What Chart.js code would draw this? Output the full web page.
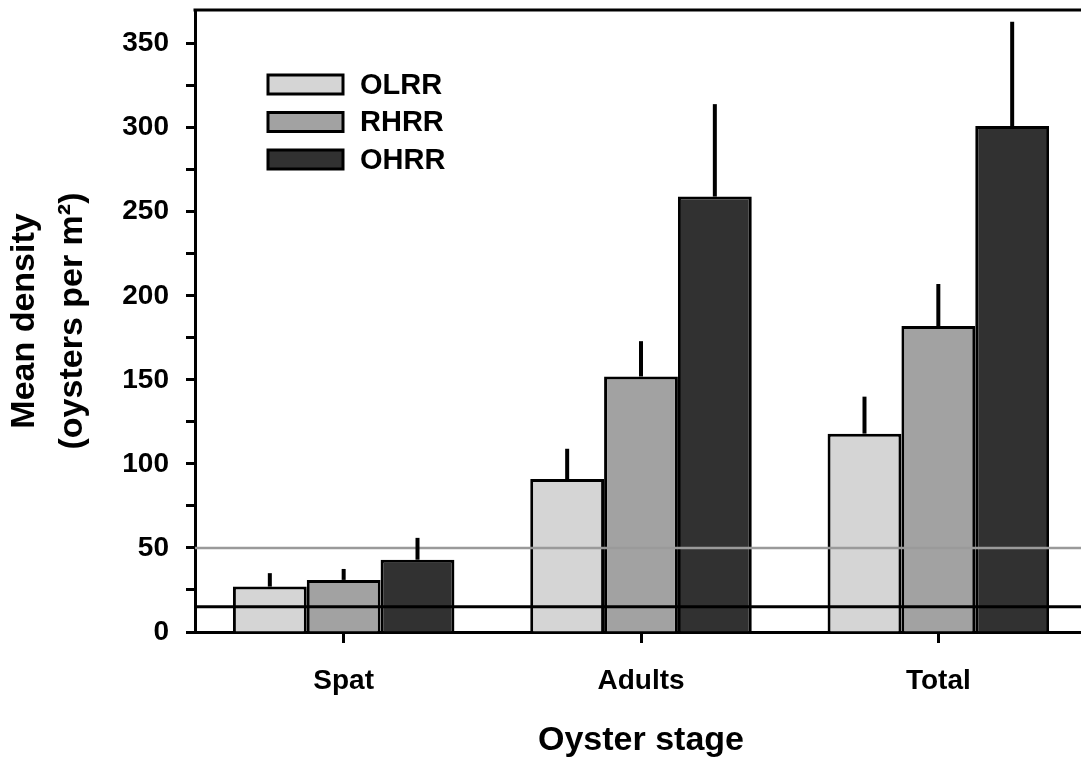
<!DOCTYPE html>
<html>
<head>
<meta charset="utf-8">
<script src="https://cdn.jsdelivr.net/npm/chart.js@4"></script>
<style>
  html, body { margin: 0; padding: 0; background: #ffffff; overflow: hidden; }
  #wrap { width: 1100px; height: 765px; }
</style>
</head>
<body>
<div id="wrap"><canvas id="c" width="1100" height="765"></canvas></div>
<script>
// Oyster density by stage and reef type
const stages = ['Spat', 'Adults', 'Total'];
const olrr = [27, 91, 118];
const rhrr = [31, 152, 182];
const ohrr = [43, 259, 301];
// upper standard error for each bar
const olrrErr = [8, 18, 22];
const rhrrErr = [6.5, 21, 25];
const ohrrErr = [13, 55, 62];
// reference densities drawn as horizontal lines
const refGray = 50;
const refBlack = 15;
const yMin = 0, yMax = 370, yStep = 25;

const FONT = '"Liberation Sans", Arial, Helvetica, sans-serif';

const errorBars = {
  id: 'errorBars',
  afterDatasetsDraw(chart) {
    const ctx = chart.ctx;
    const y = chart.scales.y;
    ctx.save();
    ctx.strokeStyle = '#000';
    ctx.lineWidth = 4;
    chart.data.datasets.forEach((ds, i) => {
      const meta = chart.getDatasetMeta(i);
      meta.data.forEach((bar, j) => {
        const top = y.getPixelForValue(ds.data[j] + ds.errors[j]);
        ctx.beginPath();
        ctx.moveTo(bar.x, bar.y);
        ctx.lineTo(bar.x, top);
        ctx.stroke();
      });
    });
    ctx.restore();
  }
};

const refLines = {
  id: 'refLines',
  afterDatasetsDraw(chart) {
    const ctx = chart.ctx;
    const a = chart.chartArea;
    const y = chart.scales.y;
    ctx.save();
    const yg = y.getPixelForValue(refGray);
    ctx.strokeStyle = '#9a9a9a';
    ctx.lineWidth = 2.5;
    ctx.beginPath(); ctx.moveTo(a.left, yg); ctx.lineTo(a.right, yg); ctx.stroke();
    const yb = y.getPixelForValue(refBlack);
    ctx.strokeStyle = '#000';
    ctx.lineWidth = 3;
    ctx.beginPath(); ctx.moveTo(a.left, yb); ctx.lineTo(a.right, yb); ctx.stroke();
    // frame line along the top of the plot
    ctx.lineWidth = 3;
    ctx.beginPath(); ctx.moveTo(a.left - 1.5, a.top); ctx.lineTo(a.right, a.top); ctx.stroke();
    ctx.restore();
  }
};

const boxLegend = {
  id: 'boxLegend',
  afterDraw(chart) {
    const ctx = chart.ctx;
    const a = chart.chartArea;
    const x0 = a.left + 73, y0 = a.top + 65, w = 75, h = 19, gap = 37.5;
    ctx.save();
    ctx.font = 'bold 29px ' + FONT;
    ctx.textBaseline = 'middle';
    ctx.textAlign = 'left';
    chart.data.datasets.forEach((ds, i) => {
      const yy = y0 + i * gap;
      ctx.fillStyle = ds.backgroundColor;
      ctx.fillRect(x0, yy, w, h);
      ctx.strokeStyle = '#000';
      ctx.lineWidth = 3;
      ctx.strokeRect(x0, yy, w, h);
      ctx.fillStyle = '#000';
      ctx.fillText(ds.label, x0 + w + 17, yy + h / 2 + 1);
    });
    ctx.restore();
  }
};

const mkSet = (label, data, errors, color) => ({
  label, data, errors,
  backgroundColor: color,
  borderColor: '#000',
  borderWidth: 3,
  borderSkipped: 'start',
  categoryPercentage: 0.745,
  barPercentage: 1.0
});

new Chart(document.getElementById('c'), {
  type: 'bar',
  data: {
    labels: stages,
    datasets: [
      mkSet('OLRR', olrr, olrrErr, '#d5d5d5'),
      mkSet('RHRR', rhrr, rhrrErr, '#a2a2a2'),
      mkSet('OHRR', ohrr, ohrrErr, '#313131')
    ]
  },
  options: {
    responsive: false,
    animation: false,
    devicePixelRatio: 1,
    layout: { padding: { top: 10, right: 13, left: 0, bottom: 0 } },
    plugins: {
      legend: { display: false },
      tooltip: { enabled: false }
    },
    scales: {
      x: {
        offset: true,
        grid: { offset: false, drawOnChartArea: false, tickLength: 11, tickWidth: 3, tickColor: '#000' },
        border: { color: '#000', width: 3 },
        ticks: { color: '#000', font: { family: FONT, size: 28, weight: 'bold' }, padding: 21 },
        title: {
          display: true, text: 'Oyster stage', color: '#000',
          font: { family: FONT, size: 34, weight: 'bold', lineHeight: 1.2 },
          padding: { top: 0, bottom: 4 }
        },
        afterFit(s) { s.height = 133; s.paddingLeft = 0; s.paddingRight = 0; }
      },
      y: {
        min: yMin, max: yMax,
        grid: { drawOnChartArea: false, tickLength: 9, tickWidth: 3, tickColor: '#000' },
        border: { color: '#000', width: 3 },
        ticks: {
          stepSize: yStep,
          color: '#000',
          font: { family: FONT, size: 28, weight: 'bold' },
          padding: 17,
          callback: (v) => (v % 50 === 0 ? String(v) : '')
        },
        afterBuildTicks(s) { s.ticks = s.ticks.filter(t => t.value % yStep === 0); },
        title: {
          display: true, text: ['Mean density', '(oysters per m²)'], color: '#000',
          font: { family: FONT, size: 34, weight: 'bold', lineHeight: 1.42 },
          padding: { top: 0, bottom: 0 }
        },
        afterFit(s) { s.width = 195; s.paddingTop = 0; s.paddingBottom = 0; }
      }
    }
  },
  plugins: [refLines, errorBars, boxLegend]
});
</script>
</body>
</html>
